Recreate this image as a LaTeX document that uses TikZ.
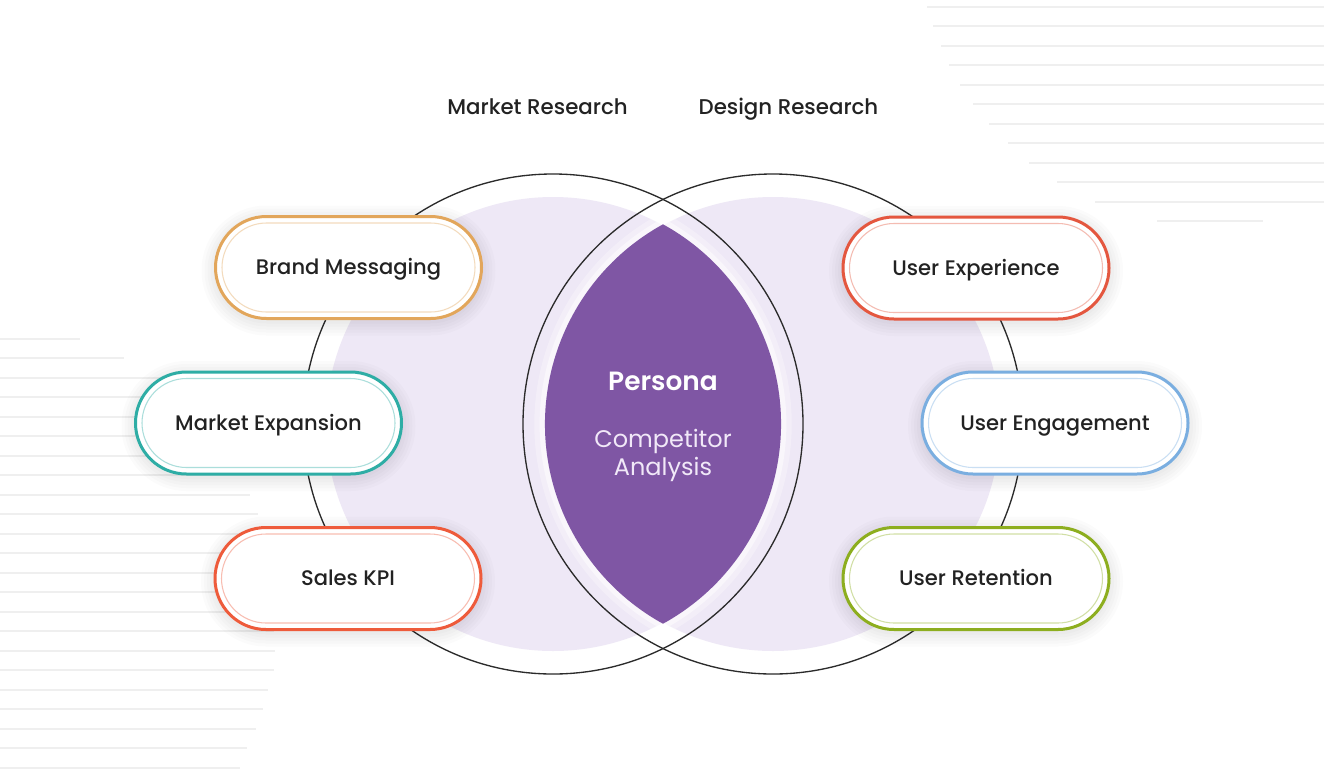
\documentclass[tikz,border=0pt]{standalone}
\usepackage{fontspec}
\setmainfont{Poppins}
\IfFontExistsTF{Poppins Medium}{\newfontfamily\pmed{Poppins Medium}}{\newfontfamily\pmed{Poppins}}
\IfFontExistsTF{Poppins SemiBold}{\newfontfamily\psemi{Poppins SemiBold}}{\newfontfamily\psemi{Poppins}[UprightFont=*-Bold]}
\definecolor{stripegray}{HTML}{EFEFEF}
\definecolor{lavender}{HTML}{EEE8F6}
\definecolor{lenspurple}{HTML}{7F56A4}
\definecolor{ringgray}{HTML}{2B2B2B}
\definecolor{textdark}{HTML}{222222}
\definecolor{softwhite}{HTML}{F1E8F8}
\definecolor{goldc}{HTML}{E2A65B}
\definecolor{tealc}{HTML}{2EADA5}
\definecolor{redc}{HTML}{EE5B3B}
\definecolor{redd}{HTML}{E4573F}
\definecolor{bluec}{HTML}{7AAEE0}
\definecolor{greenc}{HTML}{8DAE1F}
\begin{document}
\begin{tikzpicture}[x=0.75pt,y=-0.75pt,
  stripe/.style={line width=1.5pt, draw=stripegray},
  ring/.style={draw=ringgray, line width=1pt},
  pill/.style={draw=#1, line width=2.25pt, fill=white, outer sep=0pt,
    minimum width=199.5pt, minimum height=76.5pt, rounded corners=38.25pt,
    inner sep=0pt, text height=11pt, text depth=0pt, text=textdark,
    font=\pmed\fontsize{15.8}{18}\selectfont},
  innerline/.style={draw=#1!40!white, line width=0.8pt, rounded corners=33.4pt},
  title/.style={text=textdark, font=\pmed\fontsize{16}{18}\selectfont, text height=11pt, text depth=0pt, inner sep=0pt},
  centretext/.style={text=softwhite, font=\fontsize{18}{20}\selectfont, text height=12.6pt, text depth=0pt, inner sep=0pt},
]
\fill[white] (0,0) rectangle (1324,768);
\useasboundingbox (0,0) rectangle (1324,768);

% top-right stripes
\foreach \yy/\xs in {6.7/927, 26/933, 45.7/941, 65.3/949, 85/960, 104.3/973, 124/989, 143.3/1008, 163/1029, 182.3/1057, 201.7/1095}
  \draw[stripe] (\xs,\yy) -- (1324,\yy);
\draw[stripe] (1157,220.7) -- (1263,220.7);

% bottom-left stripes
\foreach \yy/\xe in {339/80, 358.3/124, 378/250, 397.3/250, 417/250, 436.3/250, 456/250, 475.3/250, 494.7/250, 514.3/258, 533.7/262, 553.3/265, 572.7/268, 592.3/270, 612/272, 631.3/274, 651/275, 670.3/274, 690/268, 709.3/263, 729/256, 748.3/247, 767.7/240}
  \draw[stripe] (0,\yy) -- (\xe,\yy);

% lavender inner circles
\fill[lavender] (553,424) circle[radius=170.25pt];
\fill[lavender] (773,424) circle[radius=170.25pt];

% glow around lens
\draw[white, line width=16pt, opacity=0.3, line join=round]
  (663,224.3) arc[start angle=118.84, end angle=241.16, radius=171pt]
  arc[start angle=-61.16, end angle=61.16, radius=171pt] -- cycle;
\draw[white, line width=8pt, opacity=0.5, line join=round]
  (663,224.3) arc[start angle=118.84, end angle=241.16, radius=171pt]
  arc[start angle=-61.16, end angle=61.16, radius=171pt] -- cycle;
% purple lens
\fill[lenspurple]
  (663,224.3) arc[start angle=118.84, end angle=241.16, radius=171pt]
  arc[start angle=-61.16, end angle=61.16, radius=171pt] -- cycle;

% outer rings
\draw[ring] (553,424) circle[radius=187.5pt];
\draw[ring] (773,424) circle[radius=187.5pt];

% titles
\node[title] (mr) at (537.5,107) {Market Research};
\node[title] (dr) at (788.5,107) {Design Research};

% centre text
\node[text=white, font=\psemi\fontsize{19.8}{22}\selectfont, text height=14pt, text depth=0pt, inner sep=0pt] (persona) at (663,381) {Persona};
\node[centretext] (comp) at (663,439) {Competitor};
\node[centretext] (anal) at (663,467) {Analysis};

% pills
\foreach \n/\px/\py/\c/\t in {
  bm/348.5/267.5/goldc/Brand Messaging,
  me/268.5/423/tealc/Market Expansion,
  sk/348/578.5/redc/Sales KPI,
  ux/976/268/redd/User Experience,
  ue/1055/423/bluec/User Engagement,
  ur/976/578.5/greenc/User Retention}{
  \foreach \d in {2,5,8,11,14}{
    \pgfmathsetmacro\rc{(51+\d)*0.75}
    \fill[black, opacity=0.016, rounded corners=\rc pt]
      (\px-133-\d,\py-51-\d+3) rectangle (\px+133+\d,\py+51+\d+3);
  }
  \node[pill=\c] (\n) at (\px,\py) {\t};
  \draw[innerline=\c] ([shift={(6.5,6.5)}]\n.north west) rectangle ([shift={(-6.5,-6.5)}]\n.south east);
}
\end{tikzpicture}
\end{document}
